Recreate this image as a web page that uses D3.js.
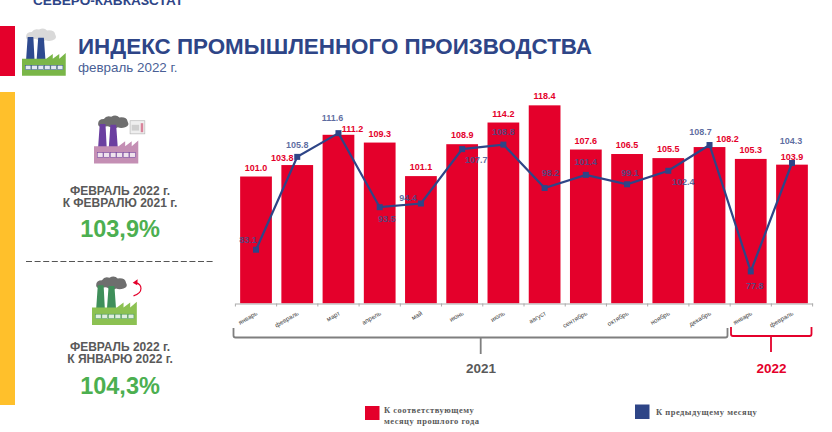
<!DOCTYPE html>
<html>
<head>
<meta charset="utf-8">
<script src="https://cdn.jsdelivr.net/npm/d3@7"></script>
<style>
  html, body { margin: 0; padding: 0; background: #fff; }
  svg { display: block; font-family: "Liberation Sans", Arial, sans-serif; }
</style>
</head>
<body>
<div id="chart"></div>
<script>
const months = ["январь","февраль","март","апрель","май","июнь","июль","август","сентябрь","октябрь","ноябрь","декабрь","январь ","февраль "];
const yearOnYear = [101.0,103.8,111.2,109.3,101.1,108.9,114.2,118.4,107.6,106.5,105.5,108.2,105.3,103.9];
const monthOnMonth = [83.1,105.8,111.6,93.5,94.4,107.7,108.8,98.2,101.4,99.1,102.4,108.7,77.8,104.3];
// label nudges by hand, same order as the series
const lineLabelDx = [-8,0,-6,7,-13,14,0,6,0,3,15,-9,4,-1];
const lineLabelDy = [-7,-9,-12,15,-3,14,-10,-12,-10,-8,14,-10,18,-19];
const barLabelDx = [0,-15,14,0,0,0,0,0,0,0,0,18,0,0];
const barLabelDy = [-6,-4,-2.5,-6,-6,-6,-6,-6,-6,-6,-6,-5.5,-5.5,-5];

const width = 832, height = 432;
const navy = "#2e4587", red = "#e4002b", grey = "#595959", green = "#4caf50";

const svg = d3.select("#chart").append("svg")
  .attr("width", width).attr("height", height);

const x = d3.scaleBand().domain(months).range([235.4, 812.6]).paddingInner(0.23).paddingOuter(0.115);
const y = d3.scaleLinear().domain([70, 120]).range([303.3, 98.8]);

// header
svg.append("text").attr("x", 33).attr("y", 5).attr("font-size", 13.6).attr("font-weight", "bold")
  .attr("fill", navy).text("СЕВЕРО-КАВКАЗСТАТ");
svg.append("rect").attr("x", 0).attr("y", 26).attr("width", 15).attr("height", 50).attr("fill", red);
svg.append("rect").attr("x", 0).attr("y", 92).attr("width", 15).attr("height", 313).attr("fill", "#ffc02b");
svg.append("text").attr("x", 78).attr("y", 54).attr("font-size", 22.4).attr("font-weight", "bold")
  .attr("fill", navy).text("ИНДЕКС ПРОМЫШЛЕННОГО ПРОИЗВОДСТВА");
svg.append("text").attr("x", 78).attr("y", 72).attr("font-size", 13.4)
  .attr("fill", "#4a5f96").text("февраль 2022 г.");

function factory(g, smoke, stack, body, win) {
  g.append("path").attr("fill", smoke)
    .attr("d", "M5,11 q0,-6 7,-6 q3,-5 9,-3 q6,-3 10,1 q9,-1 10,5 q3,5 -3,7 q-5,2 -9,0 q-5,3 -9,0 q-3,-2 -6,-1 q-9,2 -9,-3z");
  g.append("path").attr("fill", stack).attr("d", "M5,40 L7,11 H14 L15.5,40z M18,40 L20,12 H27 L29,40z");
  g.append("path").attr("fill", body).attr("d", "M0,59 V38 H30 L38,32 V38 L46,32 V38 L54,31 V59z");
  g.append("g").selectAll("rect").data(d3.range(6)).join("rect")
    .attr("x", d => 4 + d * 7.9).attr("y", 46).attr("width", 7).attr("height", 5.5)
    .attr("fill", win).attr("stroke", stack).attr("stroke-width", 0.6);
}
factory(svg.append("g").attr("transform", "translate(22,28) scale(0.81)"),
  "#d9d9d9", "#2e4a8f", "#7ab648", "#e3e9f3");

const icon2 = svg.append("g").attr("transform", "translate(94,115) scale(0.82)");
factory(icon2, "#6e6e6e", "#6b3fa0", "#c48fb4", "#efe3ec");
icon2.append("rect").attr("x", 44).attr("y", 7).attr("width", 18).attr("height", 16)
  .attr("fill", "#efefef").attr("stroke", "#b5b5b5").attr("stroke-width", 0.8);
icon2.append("rect").attr("x", 57).attr("y", 10).attr("width", 3).attr("height", 11).attr("fill", "#d9839a");
icon2.append("rect").attr("x", 46).attr("y", 12).attr("width", 9).attr("height", 7).attr("fill", "#cfcfcf");

const icon3 = svg.append("g").attr("transform", "translate(92,276) scale(0.83)");
factory(icon3, "#6e6e6e", "#3f8f5a", "#8cc152", "#dfeedd");
icon3.append("path").attr("fill", "none").attr("stroke", red).attr("stroke-width", 1.4)
  .attr("d", "M50,24 q9,-3 9,-9 q0,-5 -6,-7");
icon3.append("path").attr("fill", red).attr("d", "M49,8 L55,4 L54.5,11z");

// side captions
const side = svg.append("g").attr("text-anchor", "middle");
function caption(lines, value, ys, yv) {
  lines.forEach((t, i) => side.append("text").attr("x", 120).attr("y", ys[i])
    .attr("font-size", 12).attr("font-weight", "bold").attr("fill", grey).text(t));
  side.append("text").attr("x", 120).attr("y", yv).attr("font-size", 23.5)
    .attr("font-weight", "bold").attr("fill", green).text(value);
}
caption(["ФЕВРАЛЬ 2022 г.", "К ФЕВРАЛЮ 2021 г."], "103,9%", [195, 207], 237);
caption(["ФЕВРАЛЬ 2022 г.", "К ЯНВАРЮ 2022 г."], "104,3%", [351, 363], 394);
svg.append("line").attr("x1", 26).attr("x2", 214).attr("y1", 261.5).attr("y2", 261.5)
  .attr("stroke", "#555").attr("stroke-width", 1.2).attr("stroke-dasharray", "6 2.6");

// bars
svg.append("g").attr("fill", red).selectAll("rect").data(yearOnYear).join("rect")
  .attr("x", (d, i) => x(months[i]))
  .attr("y", d => y(d))
  .attr("width", x.bandwidth())
  .attr("height", d => y(70) - y(d));

// x axis
const axis = svg.append("g").attr("transform", "translate(0,303.5)")
  .call(d3.axisBottom(x).tickSize(0).tickPadding(0).tickFormat(d => d.trim()));
axis.select(".domain").attr("stroke", "#aaa");
axis.selectAll(".tick text")
  .attr("font-size", 6.4).attr("fill", "#444").attr("text-anchor", "end").attr("dy", 0)
  .attr("transform", "translate(2,11) rotate(-30)");
axis.selectAll(".edge").data(d3.range(months.length + 1)).join("line").attr("class", "edge")
  .attr("x1", d => 235.4 + d * x.step()).attr("x2", d => 235.4 + d * x.step())
  .attr("y1", 0).attr("y2", 3).attr("stroke", "#aaa");

// line series
const cx = i => x(months[i]) + x.bandwidth() / 2;
svg.append("path").datum(monthOnMonth)
  .attr("fill", "none").attr("stroke", navy).attr("stroke-width", 2.2)
  .attr("d", d3.line().x((d, i) => cx(i)).y(d => y(d)));
svg.append("g").attr("fill", navy).selectAll("rect").data(monthOnMonth).join("rect")
  .attr("x", (d, i) => cx(i) - 3).attr("y", d => y(d) - 3).attr("width", 6).attr("height", 6);

// data labels
svg.append("g").attr("text-anchor", "middle").attr("font-size", 9).attr("font-weight", "bold")
  .attr("fill", red).selectAll("text").data(yearOnYear).join("text")
  .attr("x", (d, i) => cx(i) + barLabelDx[i])
  .attr("y", (d, i) => y(d) + barLabelDy[i])
  .text(d => d.toFixed(1));
svg.append("g").attr("text-anchor", "middle").attr("font-size", 9).attr("font-weight", "bold")
  .attr("fill", "#3f5290").attr("fill-opacity", 0.85).selectAll("text").data(monthOnMonth).join("text")
  .attr("x", (d, i) => cx(i) + lineLabelDx[i])
  .attr("y", (d, i) => y(d) + lineLabelDy[i])
  .text(d => d.toFixed(1));

// year brackets
function bracket(x0, x1, xm, y0, y1, y2, color) {
  svg.append("path").attr("fill", "none").attr("stroke", color).attr("stroke-width", 1.8)
    .attr("d", `M${x0},${y0} V${y1 - 2} Q${x0},${y1} ${x0 + 2},${y1} H${x1 - 2} Q${x1},${y1} ${x1},${y1 - 2} V${y0} M${xm},${y1} V${y2}`);
}
bracket(233.5, 727.5, 480.7, 328, 337.5, 354, "#7f7f7f");
bracket(731, 811.5, 771, 327, 336, 352, red);
svg.append("text").attr("x", 481).attr("y", 373).attr("text-anchor", "middle").attr("font-size", 13.5)
  .attr("font-weight", "bold").attr("fill", grey).text("2021");
svg.append("text").attr("x", 771.5).attr("y", 373).attr("text-anchor", "middle").attr("font-size", 13.5)
  .attr("font-weight", "bold").attr("fill", red).text("2022");

// legend
const legend = svg.append("g").attr("font-family", "'Liberation Serif', serif").attr("font-size", 8.5)
  .attr("font-weight", "bold").attr("fill", "#595959").attr("letter-spacing", 0.5);
legend.append("rect").attr("x", 365).attr("y", 406).attr("width", 14.5).attr("height", 14).attr("fill", red);
legend.append("text").attr("x", 384).attr("y", 413).text("К соответствующему");
legend.append("text").attr("x", 384).attr("y", 424).text("месяцу прошлого  года");
legend.append("rect").attr("x", 635).attr("y", 404.5).attr("width", 14.5).attr("height", 14.5).attr("fill", navy);
legend.append("text").attr("x", 656).attr("y", 415).text("К предыдущему  месяцу");
</script>
</body>
</html>
